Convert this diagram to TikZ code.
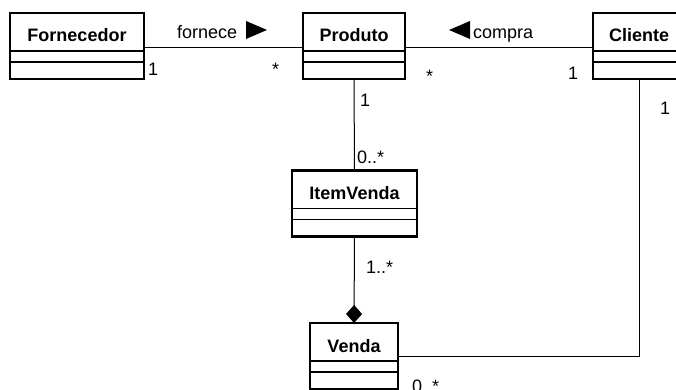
\documentclass[tikz,border=0pt]{standalone}
\usepackage{fontspec}
\setmainfont{Liberation Sans}
\usetikzlibrary{arrows.meta,calc}
\newcommand\umlclass[5]{%
  \node[classbox, minimum width=#4pt, minimum height=66pt] (#1) at (#2,#3) {};
  \node[cname] (#1T) at ($(#1.north)+(0,29)$) {#5};
  \draw[sepline] ($(#1.north west)+(0,38)$) -- ($(#1.north east)+(0,38)$);
  \draw[sepline] ($(#1.north west)+(0,49)$) -- ($(#1.north east)+(0,49)$);
}
\begin{document}
\begin{tikzpicture}[x=1pt,y=-1pt,
  classbox/.style={draw, line width=2.6pt, inner sep=0pt, outer sep=0pt, fill=white},
  cname/.style={font=\fontsize{18}{20}\selectfont\bfseries, anchor=base, inner sep=0pt},
  lbl/.style={font=\fontsize{18}{20}\selectfont, anchor=base west, inner sep=0pt},
  sepline/.style={line width=1.2pt},
  assoc/.style={line width=1pt}]
\useasboundingbox (0,0) rectangle (676,390);
\clip (0,0) rectangle (676,390);
\fill[white] (0,0) rectangle (676,390);

\umlclass{forn}{77}{46}{134}{Fornecedor}
\umlclass{prod}{354}{46}{102}{Produto}
\umlclass{clie}{639}{46}{92}{Cliente}
\umlclass{item}{354.5}{203.5}{125}{ItemVenda}
\umlclass{vend}{354}{356}{88}{Venda}

\draw[assoc] ([yshift=-2pt]forn.east) -- ([yshift=-2pt]prod.west);
\draw[assoc] ([yshift=-2pt]prod.east) -- ([yshift=-2pt]clie.west);
\draw[assoc] (prod.south) -- (item.north);
\draw[assoc, -{Diamond[length=18pt, width=16pt]}] (item.south) -- (vend.north);
\draw[assoc] (vend.east) -| (clie.south);

% association names
\node[lbl] (lfor) at (177,39) {fornece};
\fill (246,21) -- (267,30) -- (246,39) -- cycle;
\node[lbl] (lcom) at (473,39) {compra};
\fill (470,21) -- (449,30) -- (470,39) -- cycle;

% multiplicities
\node[lbl] (m1) at (148,76) {1};
\node[lbl] (m2) at (272,76) {*};
\node[lbl] (m3) at (426,83) {*};
\node[lbl] (m4) at (568,80) {1};
\node[lbl] (m5) at (360,107) {1};
\node[lbl] (m6) at (357,163) {0..*};
\node[lbl] (m7) at (366,273) {1..*};
\node[lbl] (m8) at (660,115) {1};
\node[lbl] (m9) at (412,392) {0..*};
\end{tikzpicture}
\end{document}
